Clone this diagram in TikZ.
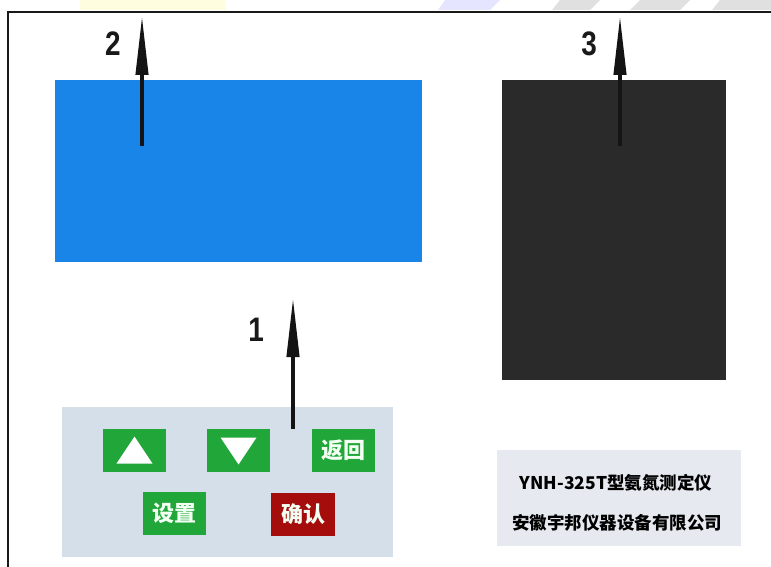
\documentclass[tikz,border=0pt]{standalone}
\usepackage{fontspec}
\setmainfont{Liberation Sans}
\newfontfamily\cjk{Noto Sans CJK SC}
\usetikzlibrary{arrows.meta,calc}
\definecolor{scrblue}{HTML}{1A85E8}
\definecolor{scrdark}{HTML}{2A2A2A}
\definecolor{panelgray}{HTML}{D5DFE9}
\definecolor{btngreen}{HTML}{21A63A}
\definecolor{btnred}{HTML}{A50D0D}
\definecolor{labelgray}{HTML}{E6EAF0}
\tikzset{
  box/.style={inner sep=0pt, outer sep=0pt, anchor=north west, draw=none},
  btn/.style={box, fill=btngreen, minimum width=63pt, minimum height=43pt},
  btntext/.style={text=white!95!green, font=\cjk\bfseries\fontsize{22}{22}\selectfont},
  pointer/.style={line width=4.2pt, draw=black!92, -{Triangle[length=60pt,width=12pt]}},
  numlabel/.style={font=\bfseries\fontsize{34}{34}\selectfont, text=black!90, xscale=0.82},
  labeltext/.style={font=\cjk\bfseries\fontsize{17.5}{17.5}\selectfont, text=black}
}
\begin{document}
\begin{tikzpicture}[x=1pt,y=-1pt]
\useasboundingbox (0,0) rectangle (771,567);
% faint watermark traces at the top
\fill[yellow!12] (80,0) rectangle (226,10);
\fill[blue!10] (445,0) -- (500,0) -- (490,10) -- (438,10) -- cycle;
\fill[black!12] (560,0) -- (600,0) -- (590,10) -- (552,10) -- cycle;
\fill[black!12] (640,0) -- (690,0) -- (680,10) -- (630,10) -- cycle;
\fill[black!12] (720,0) -- (771,0) -- (771,10) -- (712,10) -- cycle;
% frame
\draw[line width=2.4pt, draw=black!90] (8,567) -- (8,12) -- (771,12);
% screens
\node[box, fill=scrblue, minimum width=367pt, minimum height=182pt] (blue) at (55,80) {};
\node[box, fill=scrdark, minimum width=224pt, minimum height=300pt] (dark) at (502,80) {};
% keypad panel
\node[box, fill=panelgray, minimum width=331pt, minimum height=150pt] (panel) at (62,407) {};
\node[btn] (up) at (103,429) {};
\node[btn] (down) at (207,429) {};
\node[btn] (back) at (312,429) {};
\node[btntext] at (back.center) {返回};
\node[btn] (set) at (143,492) {};
\node[btntext] at (set.center) {设置};
\node[btn, fill=btnred, minimum width=64pt] (ok) at (271,493) {};
\node[btntext] at (ok.center) {确认};
\fill[white] ($(up.center)+(-18,13)$) -- ($(up.center)+(18,13)$) -- ($(up.center)+(0,-14)$) -- cycle;
\fill[white] ($(down.center)+(-18,-13)$) -- ($(down.center)+(18,-13)$) -- ($(down.center)+(0,14)$) -- cycle;
% name plate
\node[box, fill=labelgray, minimum width=244pt, minimum height=96pt] (plate) at (497,450) {};
\node[labeltext] (t1) at (616,483) {YNH-325T型氨氮测定仪};
\node[labeltext] (t2) at (617,523) {安徽宇邦仪器设备有限公司};
% pointers
\coordinate (p1s) at (293,429);
\coordinate (p1e) at (293,297);
\coordinate (p2s) at (142,146);
\coordinate (p2e) at (142,15);
\coordinate (p3s) at (620,146);
\coordinate (p3e) at (620,15);
\draw[pointer] (p1s) -- (p1e);
\draw[pointer] (p2s) -- (p2e);
\draw[pointer] (p3s) -- (p3e);
\node[numlabel] (n1) at (256,330) {1};
\node[numlabel] (n2) at (113,44) {2};
\node[numlabel] (n3) at (589,44) {3};
\end{tikzpicture}
\end{document}
